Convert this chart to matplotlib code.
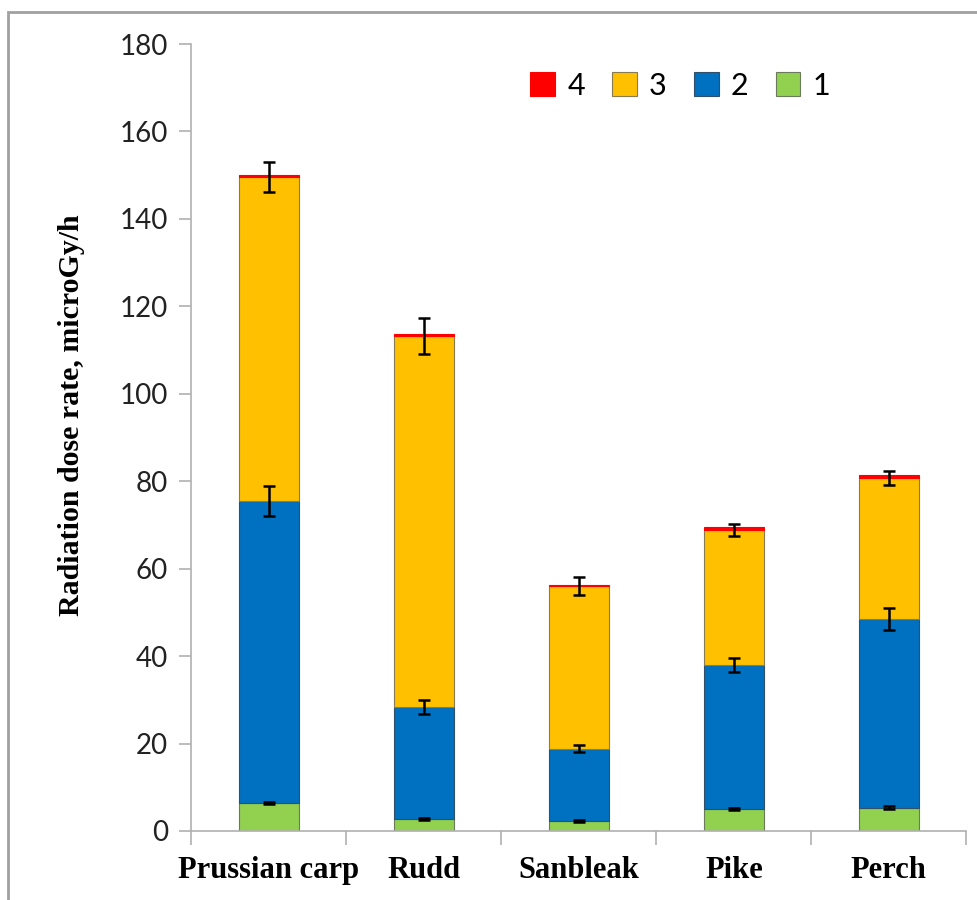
import numpy as np
import matplotlib
matplotlib.use('Agg')
import matplotlib.pyplot as plt
from matplotlib.patches import Rectangle

fish = ["Prussian carp", "Rudd", "Sanbleak", "Pike", "Perch"]
s1 = [6.4, 2.7, 2.3, 5.0, 5.3]
s2 = [69.1, 25.7, 16.5, 33.0, 43.2]
s3 = [74.1, 84.8, 37.2, 30.8, 32.2]
s4 = [0.5, 0.5, 0.3, 0.8, 0.8]
err1 = [0.3, 0.3, 0.3, 0.3, 0.3]
err2 = [3.5, 1.6, 0.8, 1.6, 2.5]
err3 = [3.5, 4.2, 2.0, 1.4, 1.6]

c1, c2, c3, c4 = "#92d050", "#0070c0", "#ffc000", "#ff0000"

fig = plt.figure(figsize=(9.77, 9), dpi=100)
ax = fig.add_axes([0.196, 0.0767, 0.793, 0.8744])

x = np.arange(len(fish))
w = 0.39
b2 = np.array(s1)
b3 = b2 + np.array(s2)
b4 = b3 + np.array(s3)

ax.bar(x, s1, w, color=c1, edgecolor="#6a7a5a", linewidth=0.8, label="1")
ax.bar(x, s2, w, bottom=b2, color=c2, edgecolor="#30506a", linewidth=0.8, label="2")
ax.bar(x, s3, w, bottom=b3, color=c3, edgecolor="#8a7a50", linewidth=0.8, label="3")
ax.bar(x, s4, w, bottom=b4, color=c4, edgecolor=c4, linewidth=0.8, label="4")

ekw = dict(fmt="none", ecolor="black", elinewidth=1.8, capsize=4, capthick=1.8)
ax.errorbar(x, b2, yerr=err1, **ekw)
ax.errorbar(x, b3, yerr=err2, **ekw)
ax.errorbar(x, b4, yerr=err3, **ekw)

ax.set_xlim(-0.5, 4.5)
ax.set_ylim(0, 180)
ax.set_yticks(range(0, 181, 20))
ax.set_xticks(np.arange(-0.5, 5, 1), minor=False)
ax.set_xticklabels([])
ax.set_xticks(x, minor=True)
ax.set_xticklabels(fish, minor=True, fontfamily="Liberation Serif",
                   fontweight="bold", fontsize=22)
ax.tick_params(axis="x", which="minor", length=0, pad=18)
ax.tick_params(axis="x", which="major", length=10, color="#b0b0b0", width=1.2)
ax.tick_params(axis="y", length=9, color="#b0b0b0", width=1.2, pad=8)
for lab in ax.get_yticklabels():
    lab.set_fontfamily("Lato")
    lab.set_fontsize(20)
    lab.set_color("#222222")

for side in ["top", "right"]:
    ax.spines[side].set_visible(False)
for side in ["left", "bottom"]:
    ax.spines[side].set_color("#b0b0b0")
    ax.spines[side].set_linewidth(1.2)

ax.set_ylabel("Radiation dose rate, microGy/h", fontfamily="Liberation Serif",
              fontweight="bold", fontsize=21.5)
ax.yaxis.set_label_coords(-0.137, 0.528)

h, l = ax.get_legend_handles_labels()
ax.legend(h[::-1], l[::-1], ncol=4, loc="upper right", bbox_to_anchor=(0.86, 1.0),
          frameon=False, prop={"family": "Lato", "size": 22},
          handlelength=0.8, handleheight=0.8, columnspacing=0.9, handletextpad=0.4)

fig.patches.append(Rectangle((8 / 977, -0.1), 1.2, 1 - 12 / 900 + 0.1,
                             transform=fig.transFigure, fill=False,
                             edgecolor="#a0a0a0", linewidth=2))

fig.savefig("out.png", dpi=100)
